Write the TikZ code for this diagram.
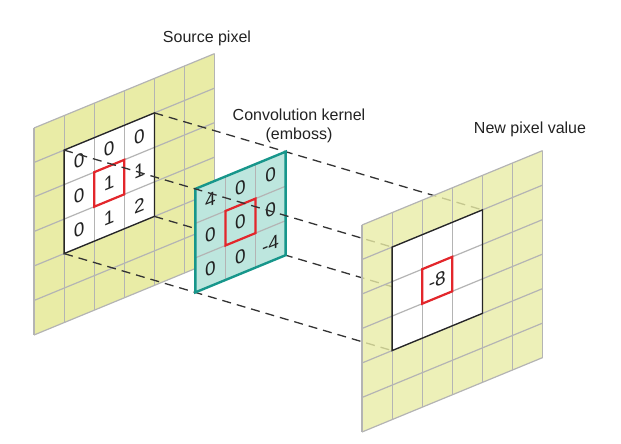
\documentclass[tikz,border=0pt]{standalone}
\usepackage{fontspec}
\setmainfont{Liberation Sans}
\usetikzlibrary{calc}
\definecolor{pyellow}{HTML}{E9ECA6}
\definecolor{pgray}{HTML}{B4B4B4}
\definecolor{kteal}{HTML}{17968B}
\definecolor{kfill}{HTML}{BDE6DE}
\definecolor{pred}{HTML}{E3262B}
\definecolor{ink}{HTML}{222222}
\begin{document}
\begin{tikzpicture}[
  gridline/.style={draw=pgray, line width=1.2pt},
  blacksq/.style={draw=black!85, line width=1.3pt, line join=miter},
  redsq/.style={draw=pred, line width=2.2pt, line join=miter},
  tealborder/.style={draw=kteal, line width=2.4pt, line join=miter},
  conn/.style={draw=black!80, line width=1.3pt, dash pattern=on 9pt off 6pt},
  cellnum/.style={font=\fontsize{19}{19}\selectfont, text=ink, inner sep=0pt, yslant=0.412},
  lbl/.style={font=\fontsize{16}{19}\selectfont, text=ink, align=center, inner sep=0pt},
  plane/.style={x={(30.1pt,12.4pt)}, y={(0pt,-34.5pt)}},
]
\useasboundingbox (0,0) rectangle (621pt,-444pt);

% ---- corner coordinates of the three planes
\begin{scope}[plane, shift={(34pt,-128pt)}]
  \coordinate (sTL) at (1,1); \coordinate (sTR) at (4,1);
  \coordinate (sBL) at (1,4); \coordinate (sBR) at (4,4);
\end{scope}
\begin{scope}[plane, shift={(195.3pt,-188.9pt)}]
  \coordinate (kTL) at (0,0); \coordinate (kTR) at (3,0);
  \coordinate (kBL) at (0,3); \coordinate (kBR) at (3,3);
\end{scope}
\begin{scope}[plane, shift={(362pt,-225pt)}]
  \coordinate (dTL) at (1,1); \coordinate (dTR) at (4,1);
  \coordinate (dBL) at (1,4); \coordinate (dBR) at (4,4);
\end{scope}

% ---- source pixel plane
\begin{scope}[plane, shift={(34pt,-128pt)}]
  \fill[pyellow] (0,0)--(6,0)--(6,6)--(0,6)--cycle;
  \fill[white] (1,1)--(4,1)--(4,4)--(1,4)--cycle;
  \foreach \k in {0,...,6} {
    \draw[gridline] (\k,0)--(\k,6);
    \draw[gridline] (0,\k)--(6,\k);
  }
  \draw[blacksq] (1,1)--(4,1)--(4,4)--(1,4)--cycle;
  \draw[redsq] (2,2)--(3,2)--(3,3)--(2,3)--cycle;
  \foreach \v [count=\n from 0] in {0,0,0,0,1,1,0,1,2} {
    \pgfmathtruncatemacro\c{mod(\n,3)}
    \pgfmathtruncatemacro\r{div(\n,3)}
    \node[cellnum] (sv\c\r) at (\c+1.5,\r+1.5) {\v};
  }
\end{scope}

% ---- connectors that pass behind the kernel
\draw[conn] (sTR) -- (dTR);
\draw[conn] (sBL) -- (dBL);
\draw[conn] (sBR) -- (dBR);

% ---- convolution kernel
\begin{scope}[plane, shift={(195.3pt,-188.9pt)}]
  \fill[kfill] (0,0)--(3,0)--(3,3)--(0,3)--cycle;
  \foreach \k in {1,2} {
    \draw[gridline] (\k,0)--(\k,3);
    \draw[gridline] (0,\k)--(3,\k);
  }
  \draw[redsq] (1,1)--(2,1)--(2,2)--(1,2)--cycle;
  \draw[tealborder] (0,0)--(3,0)--(3,3)--(0,3)--cycle;
  \foreach \v [count=\n from 0] in {4,0,0,0,0,0,0,0,-4} {
    \pgfmathtruncatemacro\c{mod(\n,3)}
    \pgfmathtruncatemacro\r{div(\n,3)}
    \node[cellnum] (kv\c\r) at (\c+0.5,\r+0.5) {\v};
  }
\end{scope}

% ---- connector drawn over the kernel
\draw[conn] (sTL) -- (dTL);

% ---- new pixel value plane
\begin{scope}[plane, shift={(362pt,-225pt)}]
  \fill[pyellow, fill opacity=0.8] (0,0)--(6,0)--(6,6)--(0,6)--cycle;
  \fill[white] (1,1)--(4,1)--(4,4)--(1,4)--cycle;
  \foreach \k in {0,...,6} {
    \draw[gridline] (\k,0)--(\k,6);
    \draw[gridline] (0,\k)--(6,\k);
  }
  \draw[blacksq] (1,1)--(4,1)--(4,4)--(1,4)--cycle;
  \draw[redsq] (2,2)--(3,2)--(3,3)--(2,3)--cycle;
  \node[cellnum] (dv) at (2.5,2.5) {-8};
\end{scope}

% ---- labels
\node[lbl, anchor=base] (srclbl) at (207pt,-43pt) {Source pixel};
\node[lbl] (kerlbl) at (299pt,-126pt) {Convolution kernel\\(emboss)};
\node[lbl, anchor=base] (newlbl) at (530pt,-133pt) {New pixel value};
\end{tikzpicture}
\end{document}
